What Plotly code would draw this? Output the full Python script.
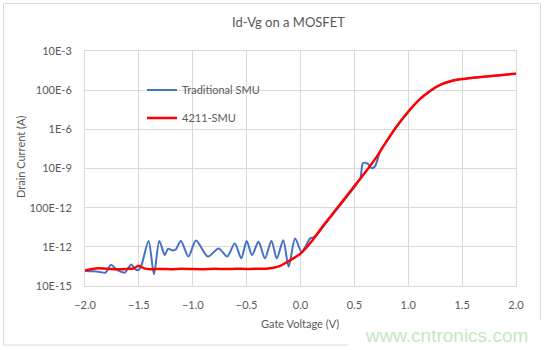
import plotly.graph_objects as go

# Gate sweep of the 4211-SMU (V) and drain current (A)
vg_4211 = [-2.0, -1.9, -1.8, -1.7, -1.6, -1.55, -1.5, -1.45, -1.4, -1.3, -1.2, -1.1,
           -1.0, -0.9, -0.8, -0.7, -0.6, -0.5, -0.4, -0.3, -0.2, -0.1, 0.0, 0.1,
           0.2, 0.3, 0.4, 0.5, 0.6, 0.7, 0.8, 0.9, 1.0, 1.1, 1.2, 1.3, 1.4, 1.5,
           1.6, 1.7, 1.8, 1.9, 2.0]
id_4211 = [6.3e-14, 7.9e-14, 7.6e-14, 7.1e-14, 7.6e-14, 7.9e-14, 1.07e-13, 7.9e-14,
           7.2e-14, 7.4e-14, 7.2e-14, 7.6e-14, 7.3e-14, 7.2e-14, 7.5e-14, 7.3e-14,
           7.6e-14, 7.4e-14, 7.6e-14, 7.9e-14, 1.0e-13, 2.0e-13, 4.5e-13, 1.8e-12,
           1.0e-11, 5.0e-11, 2.5e-10, 1.26e-9, 6.3e-9, 3.5e-8, 2.5e-7, 1.6e-6,
           7.9e-6, 3.2e-5, 8.9e-5, 1.9e-4, 2.95e-4, 3.7e-4, 4.3e-4, 4.9e-4,
           5.5e-4, 6.2e-4, 6.8e-4]

# Same sweep on a traditional SMU
vg_trad = [-2.0, -1.92, -1.86, -1.81, -1.76, -1.71, -1.66, -1.63, -1.57, -1.54,
           -1.51, -1.48, -1.41, -1.36, -1.31, -1.26, -1.23, -1.19, -1.16, -1.11,
           -1.04, -0.97, -0.86, -0.76, -0.68, -0.61, -0.55, -0.50, -0.45, -0.39,
           -0.33, -0.27, -0.22, -0.16, -0.11, -0.05, 0.01, 0.09, 0.12, 0.15,
           0.2, 0.3, 0.4, 0.5, 0.555, 0.58, 0.62, 0.66, 0.69, 0.74, 0.8, 0.9,
           1.0, 1.1, 1.2, 1.3, 1.4, 1.5, 1.6, 1.7, 1.8, 1.9, 2.0]
id_trad = [5.8e-14, 5.6e-14, 5.2e-14, 4.8e-14, 1.2e-13, 7.1e-14, 5.2e-14, 4.8e-14,
           1.26e-13, 7.9e-14, 6.3e-14, 1.0e-13, 2.0e-12, 4.0e-14, 2.0e-12, 3.8e-13,
           7.9e-13, 6.6e-13, 7.1e-13, 2.0e-12, 3.2e-13, 2.1e-12, 3.2e-13, 8.3e-13,
           3.2e-13, 1.5e-12, 2.6e-13, 2.0e-12, 3.8e-13, 1.8e-12, 2.6e-13, 2.0e-12,
           2.6e-13, 2.2e-12, 9.5e-14, 2.7e-12, 5.6e-13, 2.7e-12, 3.0e-12, 4.0e-12,
           0.9e-11, 4.5e-11, 2.2e-10, 1.1e-9, 3.2e-9, 1.9e-8, 1.8e-8, 1.05e-8,
           1.26e-8, 7.6e-8, 2.5e-7, 1.6e-6, 7.9e-6, 3.2e-5, 8.9e-5, 1.9e-4,
           2.95e-4, 3.7e-4, 4.3e-4, 4.9e-4, 5.5e-4, 6.2e-4, 6.8e-4]

x_ticks = [-2.0, -1.5, -1.0, -0.5, 0.0, 0.5, 1.0, 1.5, 2.0]
y_ticks = [1e-14, 1e-12, 1e-10, 1e-8, 1e-6, 1e-4, 1e-2]
y_tick_text = ["10E-15", "1E-12", "100E-12", "10E-9", "1E-6", "100E-6", "10E-3"]

W, H = 546, 350
L, R, T, B = 85, 30, 51, 64
PW, PH = W - L - R, H - T - B


def px(xp):
    return (xp - L) / PW


def py(yp):
    return (H - B - yp) / PH


FONT = "Lato"
TXT = "#595959"
GRID = "#d9d9d9"

fig = go.Figure()
fig.add_trace(go.Scatter(
    x=vg_trad, y=id_trad, mode="lines", name="Traditional SMU",
    line=dict(color="#4472C4", width=2, shape="spline", smoothing=0.8),
    legendgroup="a"))
fig.add_trace(go.Scatter(
    x=vg_4211, y=id_4211, mode="lines", name="4211-SMU",
    line=dict(color="#FF0000", width=2.5, shape="spline", smoothing=0.8),
    legendgroup="b"))

fig.update_layout(
    width=W, height=H,
    margin=dict(l=L, r=R, t=T, b=B),
    paper_bgcolor="white", plot_bgcolor="white",
    font=dict(family=FONT, color=TXT, size=11),
    showlegend=True,
    legend=dict(x=px(142), y=py(75.5), xanchor="left", yanchor="top",
                bgcolor="rgba(0,0,0,0)", font=dict(size=11, color=TXT),
                tracegroupgap=9, itemwidth=30),
    xaxis=dict(range=[-2.0, 2.0], tickvals=x_ticks, tickformat=".1f",
               showgrid=True, gridcolor=GRID, gridwidth=1, zeroline=False,
               showline=True, linecolor=GRID, mirror=True,
               ticks="", ticklabelstandoff=9,
               tickfont=dict(size=11, color=TXT)),
    yaxis=dict(type="log", range=[-14, -2], tickvals=y_ticks, ticktext=y_tick_text,
               showgrid=True, gridcolor=GRID, gridwidth=1, zeroline=False,
               showline=True, linecolor=GRID, mirror=True,
               ticks="", ticklabelstandoff=10,
               tickfont=dict(size=11, color=TXT)),
    shapes=[
        # chart frame
        dict(type="rect", xref="paper", yref="paper",
             x0=px(3.5), x1=px(540.5), y0=py(3.5), y1=py(345),
             line=dict(color=GRID, width=1), fillcolor="rgba(0,0,0,0)"),
        # legend panel over the gridlines
        dict(type="rect", xref="paper", yref="paper", layer="between",
             x0=px(125), x1=px(280), y0=py(75), y1=py(128),
             line=dict(width=0), fillcolor="white"),
    ],
    annotations=[
        dict(text="Id-Vg on a MOSFET", xref="paper", yref="paper",
             x=px(288), y=py(22), showarrow=False,
             font=dict(size=13, color=TXT), xanchor="center", yanchor="middle"),
        dict(text="Gate Voltage (V)", xref="paper", yref="paper",
             x=px(300), y=py(323), showarrow=False,
             font=dict(size=11, color=TXT), xanchor="center", yanchor="middle"),
        dict(text="Drain Current (A)", xref="paper", yref="paper",
             x=px(20), y=py(157), showarrow=False, textangle=-90,
             font=dict(size=11, color=TXT), xanchor="center", yanchor="middle"),
        dict(text="www.cntronics.com", xref="paper", yref="paper",
             x=px(446.5), y=py(335.5), showarrow=False,
             width=195, height=27, bgcolor="white",
             font=dict(family="Liberation Sans", size=19, color="#c4e7be"),
             xanchor="center", yanchor="middle"),
    ],
)

fig.write_html("out.html")
